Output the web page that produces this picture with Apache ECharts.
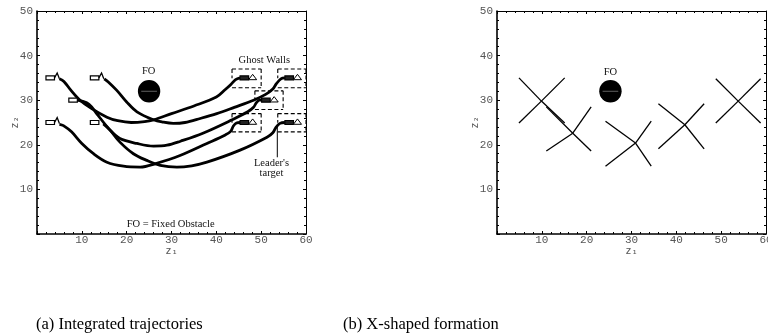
<!DOCTYPE html>
<html>
<head>
<meta charset="utf-8">
<script src="https://cdn.jsdelivr.net/npm/echarts@6/dist/echarts.min.js"></script>
<style>
  html, body { margin: 0; background: #fff; }
  #chart { width: 768px; height: 333px; }
</style>
</head>
<body>
<div id="chart"></div>
<script>
// panel (a): integrated trajectories, points in (z1, z2)
const trajA = [[5.0,34.8],[6.0,34.2],[7.5,32.3],[9.6,30.0],[12.2,28.1],[15.6,26.2],[18.0,25.4],[21.0,25.0],[24.0,25.2],[26.0,25.6],[30.0,27.0],[35.0,28.7],[40.0,30.7],[42.0,32.4],[43.3,33.6],[44.3,34.6],[45.3,35.0]];
const trajB = [[15.0,34.8],[15.9,34.1],[17.8,32.2],[20.0,29.6],[22.3,27.4],[26.0,25.6],[28.0,25.1],[30.4,24.8],[33.0,25.0],[36.4,25.9],[40.1,27.0],[44.0,28.4],[48.3,30.0],[51.0,31.3],[52.6,32.5],[53.4,33.7],[54.4,34.8],[55.3,35.0]];
const trajC = [[9.0,30.0],[11.1,29.4],[12.2,28.5],[13.3,27.0],[16.3,23.3],[18.5,21.4],[22.3,20.3],[26.0,19.7],[29.0,19.9],[32.0,20.8],[37.0,22.6],[43.5,25.6],[47.0,27.4],[48.3,28.4],[48.9,29.4],[49.6,30.0],[50.2,30.0]];
const trajD = [[5.0,24.6],[5.9,24.3],[7.7,22.9],[10.0,20.3],[12.6,18.0],[15.6,16.1],[19.3,15.2],[23.0,15.0],[26.5,15.8],[31.9,17.6],[37.9,20.3],[42.0,22.2],[43.2,23.0],[43.8,24.2],[44.5,24.9],[45.3,25.0]];
const trajE = [[14.8,24.7],[16.3,23.3],[18.5,20.6],[21.5,18.0],[24.5,16.5],[27.5,15.4],[31.2,15.0],[34.5,15.3],[37.9,16.1],[45.3,18.8],[51.3,21.7],[52.6,22.7],[53.3,23.9],[54.2,24.8],[55.3,25.0]];
const trajectories = [trajA, trajB, trajC, trajD, trajE];

// vehicles: start (outlined + nose spike) and target (filled + triangle)
const startPos = [[3.9,35],[13.8,35],[9.0,30],[3.9,25],[13.8,25]];
const startSpike = [1, 1, 0, 1, 0];
const endPos = [[47.2,35],[57.2,35],[52.0,30],[47.2,25],[57.2,25]];

// ghost walls (dashed boxes)
const wallX0 = [43.5, 53.7, 48.6, 43.5, 53.7];
const wallX1 = [50.0, 60.0, 54.9, 50.0, 60.0];
const wallY0 = [32.8, 32.8, 27.9, 22.9, 22.9];
const wallY1 = [37.0, 37.0, 32.1, 27.0, 27.0];

const leaderPointer = [[53.6, 24.2], [53.6, 17.2]];

// fixed obstacle
const obstacleA = [25.0, 32.0];
const obstacleB = [25.3, 32.0];
const obstacleR = 2.5;

// notes inside panel (a)
const notesA = ['FO', 'Ghost Walls', "Leader's", 'target', 'FO = Fixed Obstacle'];
const notesAX = [24.9, 50.7, 52.3, 52.3, 29.8];
const notesAY = [36.4, 39.0, 15.8, 13.6, 2.2];

// panel (b): X-shaped formations
const formCX = [9.9, 16.9, 30.9, 41.9, 53.8];
const formCY = [29.8, 22.6, 20.4, 24.5, 29.8];
const formL = [4.9, 11.0, 24.2, 36.0, 48.8];
const formR = [15.1, 21.0, 34.4, 46.2, 58.8];
const formT = [35.0, 28.5, 25.3, 29.2, 34.8];
const formB = [24.9, 18.6, 15.2, 19.1, 24.9];

const captions = ['(a) Integrated trajectories', '(b) X-shaped formation'];

const tickFont = { color: '#555', fontFamily: 'Liberation Mono', fontSize: 11 };
const nameFont = { color: '#555', fontFamily: 'DejaVu Sans Mono', fontSize: 10.5 };

function frameAxis(extra) {
  return Object.assign({
    type: 'value',
    axisLine: { onZero: false, lineStyle: { color: '#000', width: 1 } },
    axisTick: { inside: true, length: 3, lineStyle: { color: '#000' } },
    minorTick: { show: true, splitNumber: 5, length: 2, lineStyle: { color: '#000' } },
    splitLine: { show: false },
    axisLabel: { show: false }
  }, extra);
}

function xAxes(g) {
  return [
    frameAxis({
      gridIndex: g, position: 'bottom', min: 0, max: 60, interval: 10,
      axisLine: { onZero: false, lineStyle: { color: '#000', width: 1.6 } },
      axisLabel: { ...tickFont, margin: 1, formatter: v => (v === 0 ? '' : v) },
      name: 'z\u2081', nameLocation: 'middle', nameGap: 12, nameMoveOverlap: false, nameTextStyle: nameFont
    }),
    frameAxis({ gridIndex: g, position: 'top', min: 0, max: 60, interval: 10 })
  ];
}

function yAxes(g) {
  return [
    frameAxis({
      gridIndex: g, position: 'left', min: 0, max: 50, interval: 10,
      axisLine: { onZero: false, lineStyle: { color: '#000', width: 1.6 } },
      axisLabel: { ...tickFont, margin: 4, formatter: v => (v === 0 ? '' : v) },
      name: 'z\u2082', nameLocation: 'middle', nameGap: 16, nameRotate: 90, nameMoveOverlap: false,
      nameTextStyle: nameFont
    }),
    frameAxis({ gridIndex: g, position: 'right', min: 0, max: 50, interval: 10 })
  ];
}

function renderObstacle(params, api) {
  const c = api.coord([api.value(0), api.value(1)]);
  const r = api.size([api.value(2), 0])[0];
  return {
    type: 'group',
    children: [
      { type: 'circle', shape: { cx: c[0], cy: c[1], r: r }, style: { fill: '#000' } },
      { type: 'line', shape: { x1: c[0] - r * 0.7, y1: c[1], x2: c[0] + r * 0.7, y2: c[1] },
        style: { stroke: '#777', lineWidth: 0.8 } }
    ]
  };
}

function renderVehicle(params, api) {
  const x = api.value(0), y = api.value(1), kind = api.value(2), spike = api.value(3);
  const p = (a, b) => api.coord([a, b]);
  const tl = p(x - 1.9, y + 0.45), br = p(x, y - 0.45);
  const children = [{
    type: 'rect',
    shape: { x: tl[0], y: tl[1], width: br[0] - tl[0], height: br[1] - tl[1] },
    style: { fill: kind === 1 ? '#222' : '#fff', stroke: '#000', lineWidth: 1.2 }
  }];
  if (kind === 1) {
    children.push({ type: 'polygon',
      shape: { points: [p(x, y - 0.4), p(x + 0.9, y + 0.8), p(x + 1.8, y - 0.4)] },
      style: { fill: '#fff', stroke: '#000', lineWidth: 1 } });
  } else if (spike) {
    children.push({ type: 'polyline',
      shape: { points: [p(x, y), p(x + 0.6, y + 1.1), p(x + 1.1, y - 0.2)] },
      style: { fill: null, stroke: '#000', lineWidth: 1.3 } });
  }
  return { type: 'group', children };
}

function renderWall(params, api) {
  const x0 = api.value(0), x1 = api.value(1), y0 = api.value(2), y1 = api.value(3);
  const ym = (y0 + y1) / 2;
  const seg = (a, b) => {
    const s = api.coord(a), e = api.coord(b);
    return { type: 'line', shape: { x1: s[0], y1: s[1], x2: e[0], y2: e[1] },
      style: { stroke: '#000', lineWidth: 1.1, lineDash: [4, 2.5] } };
  };
  return { type: 'group', children: [
    seg([x0, y1], [x1, y1]), seg([x1, y1], [x1, y0]), seg([x0, y0], [x1, y0]), seg([x0, y1], [x0, ym])
  ] };
}

function renderNote(params, api) {
  const c = api.coord([api.value(0), api.value(1)]);
  return { type: 'text', x: c[0], y: c[1],
    style: { text: notesA[params.dataIndex], fill: '#111', align: 'center', verticalAlign: 'middle',
      font: '10.5px "Liberation Serif"' } };
}

function renderX(params, api) {
  const c = api.coord([api.value(0), api.value(1)]);
  const corners = [[api.value(2), api.value(4)], [api.value(3), api.value(4)],
                   [api.value(2), api.value(5)], [api.value(3), api.value(5)]];
  return { type: 'group', children: corners.map(k => {
    const e = api.coord(k);
    return { type: 'line', shape: { x1: c[0], y1: c[1], x2: e[0], y2: e[1] },
      style: { stroke: '#000', lineWidth: 1.3 } };
  }) };
}

const series = [];
trajectories.forEach(t => series.push({
  type: 'line', xAxisIndex: 0, yAxisIndex: 0, data: t, smooth: 0.35, symbol: 'none',
  lineStyle: { color: '#000', width: 2.8 }, silent: true, z: 3
}));
series.push({
  type: 'line', xAxisIndex: 0, yAxisIndex: 0, data: leaderPointer, symbol: 'none',
  lineStyle: { color: '#000', width: 1 }, silent: true
});
series.push({
  type: 'custom', xAxisIndex: 0, yAxisIndex: 0, renderItem: renderWall, silent: true,
  data: wallX0.map((v, i) => [v, wallX1[i], wallY0[i], wallY1[i]])
});
series.push({
  type: 'custom', xAxisIndex: 0, yAxisIndex: 0, renderItem: renderVehicle, silent: true, z: 4,
  data: startPos.map((p, i) => [p[0], p[1], 0, startSpike[i]]).concat(endPos.map(p => [p[0], p[1], 1, 0]))
});
series.push({
  type: 'custom', xAxisIndex: 0, yAxisIndex: 0, renderItem: renderObstacle, silent: true,
  data: [[obstacleA[0], obstacleA[1], obstacleR]]
});
series.push({
  type: 'custom', xAxisIndex: 0, yAxisIndex: 0, renderItem: renderNote, silent: true,
  data: notesAX.map((v, i) => [v, notesAY[i]])
});
series.push({
  type: 'custom', xAxisIndex: 2, yAxisIndex: 2, renderItem: renderObstacle, silent: true,
  data: [[obstacleB[0], obstacleB[1], obstacleR]]
});
series.push({
  type: 'custom', xAxisIndex: 2, yAxisIndex: 2, silent: true,
  renderItem: (params, api) => {
    const c = api.coord([api.value(0), api.value(1)]);
    return { type: 'text', x: c[0], y: c[1],
      style: { text: 'FO', fill: '#111', align: 'center', verticalAlign: 'middle', font: '10.5px "Liberation Serif"' } };
  },
  data: [[obstacleB[0], 36.2]]
});
series.push({
  type: 'custom', xAxisIndex: 2, yAxisIndex: 2, renderItem: renderX, silent: true,
  data: formCX.map((v, i) => [v, formCY[i], formL[i], formR[i], formT[i], formB[i]])
});

const chart = echarts.init(document.getElementById('chart'), null, { renderer: 'canvas' });
chart.setOption({
  animation: false,
  backgroundColor: '#fff',
  title: [
    { text: captions[0], left: 31, top: 311,
      textStyle: { fontFamily: 'Liberation Serif', fontSize: 16.5, fontWeight: 'normal', color: '#000' } },
    { text: captions[1], left: 338, top: 311,
      textStyle: { fontFamily: 'Liberation Serif', fontSize: 16.5, fontWeight: 'normal', color: '#000' } }
  ],
  grid: [
    { left: 37, top: 11, width: 269, height: 223, outerBoundsMode: 'none' },
    { left: 497, top: 11, width: 269, height: 223, outerBoundsMode: 'none' }
  ],
  xAxis: [...xAxes(0), ...xAxes(1)],
  yAxis: [...yAxes(0), ...yAxes(1)],
  series
});
</script>
</body>
</html>
